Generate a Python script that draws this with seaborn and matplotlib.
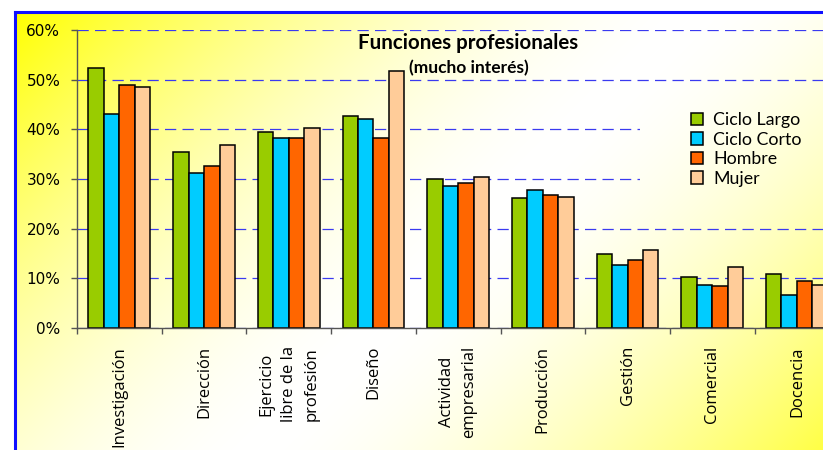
import numpy as np
import pandas as pd
import matplotlib
matplotlib.use("Agg")
import matplotlib.pyplot as plt
from matplotlib.lines import Line2D
from matplotlib.ticker import PercentFormatter
import seaborn as sns

categories = ["Investigación", "Dirección", "Ejercicio\nlibre de la\nprofesión", "Diseño",
              "Actividad\nempresarial", "Producción", "Gestión", "Comercial", "Docencia"]
series = ["Ciclo Largo", "Ciclo Corto", "Hombre", "Mujer"]
ciclo_largo = [52.4, 35.4, 39.5, 42.7, 30.1, 26.1, 14.9, 10.2, 10.8]
ciclo_corto = [43.0, 31.2, 38.2, 42.1, 28.5, 27.8, 12.6, 8.7, 6.6]
hombre      = [48.9, 32.7, 38.2, 38.2, 29.2, 26.7, 13.6, 8.4, 9.4]
mujer       = [48.6, 36.8, 40.3, 51.7, 30.5, 26.4, 15.7, 12.2, 8.7]
yticks = [0, 10, 20, 30, 40, 50, 60]
title = "Funciones profesionales"
subtitle = "(mucho interés)"
colors = ["#99CC00", "#00CCFF", "#FF6600", "#FFCC99"]

values = [ciclo_largo, ciclo_corto, hombre, mujer]
df = pd.DataFrame([
    {"Función": c, "Grupo": s, "Valor": v[i] / 100}
    for s, v in zip(series, values) for i, c in enumerate(categories)
])

W, H = 823, 450
fig = plt.figure(figsize=(W / 100, H / 100), dpi=100, facecolor="white")

# gradient background (yellow -> white -> yellow, diagonal)
bx, by = 15, 12
yy, xx = np.mgrid[0:H, 0:W].astype(float)
u = ((xx - bx) + (yy - by)) / (880 + 480)
s = np.clip(np.abs(2 * u - 1), 0, 1) ** 1.7
img = np.ones((H, W, 3))
img[..., 2] = 1 - s
img[:by, :, :] = 1
img[:, :bx, :] = 1
bg = fig.add_axes([0, 0, 1, 1], zorder=-10)
bg.imshow(img, aspect="auto", extent=(0, W, H, 0), interpolation="bilinear")
bg.set_xlim(0, W); bg.set_ylim(H, 0); bg.axis("off")
bg.add_line(Line2D([bx, W + 5], [by, by], color="#1010FF", lw=2.2))
bg.add_line(Line2D([bx, bx], [by, H + 5], color="#1010FF", lw=2.2))

# main axes
left, right, top, bottom = 77, 77 + 9 * 84.7, 30, 328
ax = fig.add_axes([left / W, 1 - bottom / H, (right - left) / W, (bottom - top) / H])
ax.set_facecolor("none")
sns.barplot(data=df, x="Función", y="Valor", hue="Grupo", order=categories,
            hue_order=series, palette=colors, edgecolor="black", linewidth=1.1,
            width=0.73, gap=0, ax=ax, saturation=1)
handles, labels = ax.get_legend_handles_labels()
if ax.get_legend():
    ax.get_legend().remove()

ax.set_ylim(0, 0.6)
ax.set_xlim(-0.5, len(categories) - 0.5)
ax.set_yticks([t / 100 for t in yticks])
ax.yaxis.set_major_formatter(PercentFormatter(1.0, decimals=0))
ax.set_axisbelow(True)
ax.yaxis.grid(True, color="#3A3AF0", linestyle=(0, (9, 5)), linewidth=0.9)
ax.xaxis.grid(False)
for sp in ["top", "right"]:
    ax.spines[sp].set_visible(False)
for sp in ["left", "bottom"]:
    ax.spines[sp].set_color("#555555")
    ax.spines[sp].set_linewidth(1)
ax.set_xlabel(""); ax.set_ylabel("")
ax.tick_params(axis="y", length=4, width=1, color="#555555", pad=8, labelsize=11)
for t in ax.get_yticklabels():
    t.set_fontfamily("DejaVu Sans")
ax.set_xticks(range(len(categories)))
ax.set_xticklabels(categories, rotation=90, fontfamily="Open Sans", fontsize=12,
                   ha="center", va="top", linespacing=1.55)
ax.tick_params(axis="x", which="major", length=0, pad=13)
ax.set_xticks(np.arange(-0.5, len(categories), 1), minor=True)
ax.tick_params(axis="x", which="minor", length=4, width=1, color="#555555", direction="out")

# cover for legend area (hides gridlines)
cx0, cx1, cy0, cy1 = 640, W, 95, 205
cov = fig.add_axes([cx0 / W, 1 - cy1 / H, (cx1 - cx0) / W, (cy1 - cy0) / H], zorder=5)
cov.imshow(img[cy0:cy1, cx0:cx1], aspect="auto", interpolation="bilinear")
cov.axis("off")

leg = fig.legend(handles, labels, loc="upper left", bbox_to_anchor=(691 / W, 1 - 112 / H),
                 frameon=False, prop={"family": "Lato", "size": 12.8}, handlelength=0.7,
                 handleheight=0.7, handletextpad=0.55, labelspacing=0.2,
                 borderpad=0, borderaxespad=0)
leg.set_zorder(10)
for h in leg.legend_handles:
    h.set_edgecolor("black"); h.set_linewidth(1.1)

fig.text(468 / W, 1 - 43 / H, title, ha="center", va="center", fontfamily="Lato",
         fontweight="bold", fontsize=14.8, zorder=20)
fig.text(469 / W, 1 - 68 / H, subtitle, ha="center", va="center", fontfamily="Lato",
         fontweight="bold", fontsize=12.5, zorder=20)

fig.savefig("out.png", dpi=100, facecolor="white")
